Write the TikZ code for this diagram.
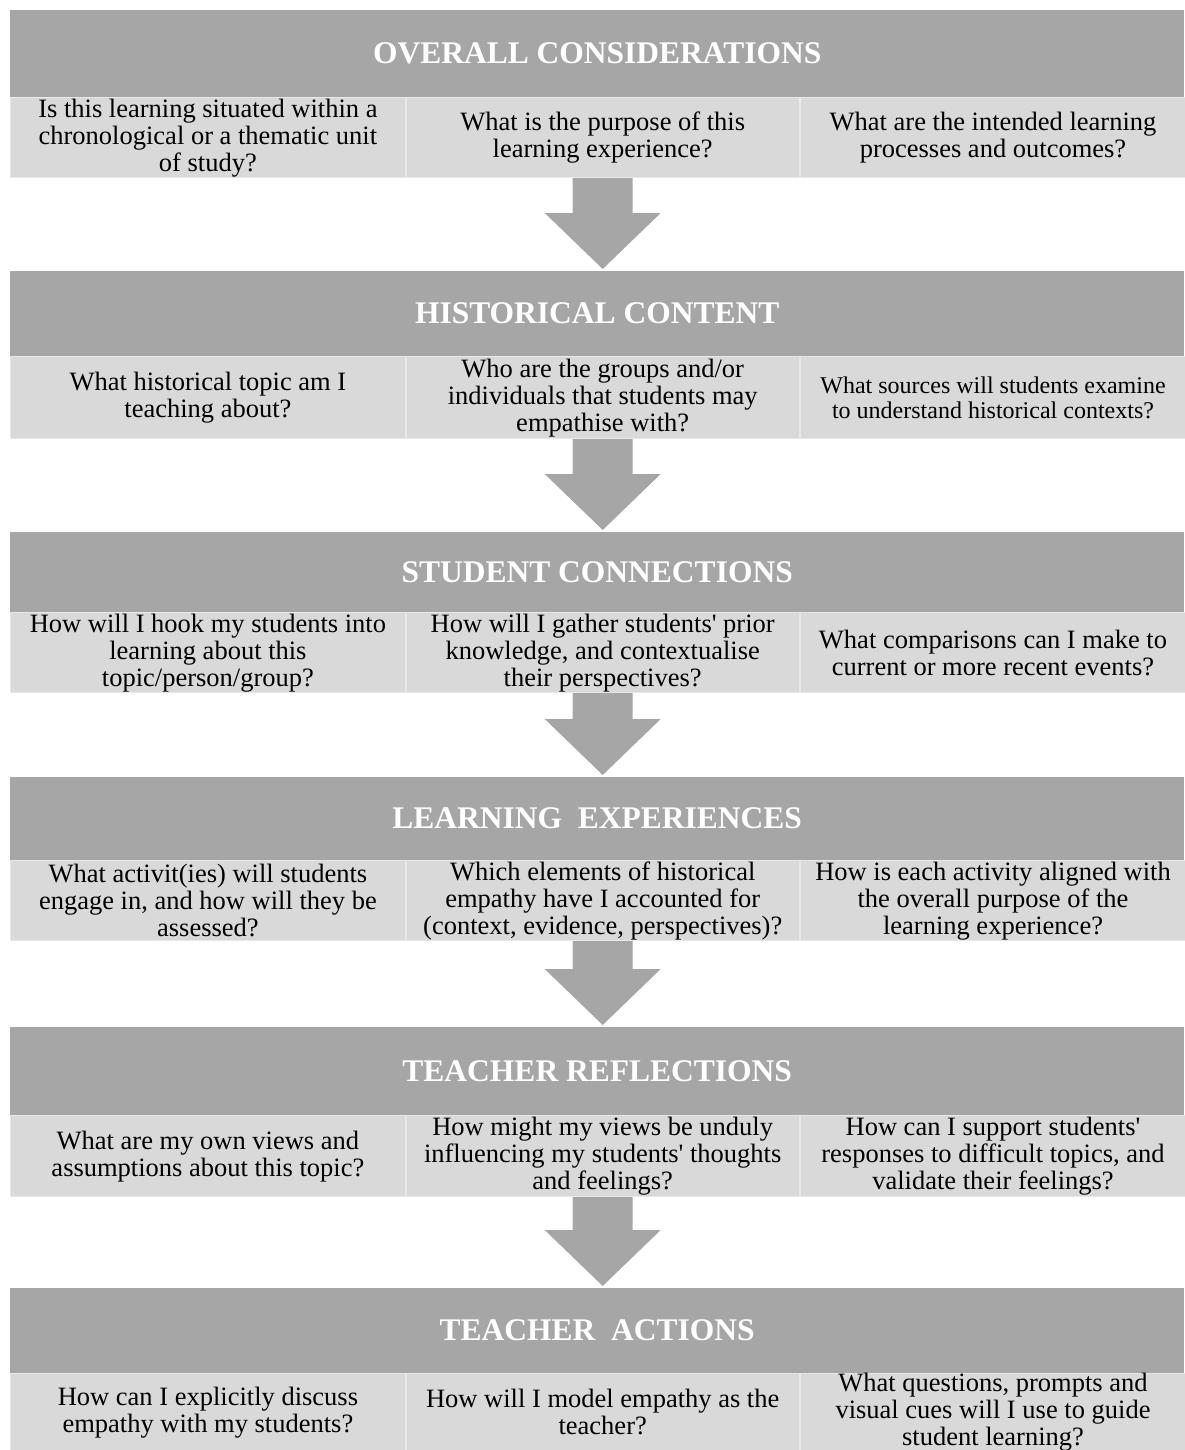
\documentclass[tikz,border=0pt]{standalone}
\usepackage{fontspec}
\setmainfont{Liberation Serif}
\usetikzlibrary{positioning,calc}
\definecolor{headgray}{HTML}{A6A6A6}
\definecolor{cellgray}{HTML}{D9D9D9}
\definecolor{cellline}{HTML}{E8E8E8}

\begin{document}
\begin{tikzpicture}
[ x=1pt, y=-1pt
, head/.style={rectangle, anchor=north west, inner sep=0pt, minimum width=1174pt, fill=headgray, text=white, font=\fontsize{31.5}{34}\selectfont\bfseries}
, cell/.style={rectangle, inner sep=0pt, minimum height=80pt, draw=cellline, line width=0.8pt, fill=cellgray, align=center, font=\fontsize{26.5}{27}\selectfont}
, first/.style={cell, anchor=north west, minimum width=395pt}
, second/.style={cell, right=0pt of #1, minimum width=393pt}
, third/.style={cell, right=0pt of #1, minimum width=386pt}
, flow/.style={fill=headgray}
]
\useasboundingbox (0,0) rectangle (1184,1450);
% Overall considerations:
\node (oc) [head, minimum height=87pt] at (10,10) {OVERALL CONSIDERATIONS};
\node (oc1) [first] at (oc.south west) {Is this learning situated within a\\chronological or a thematic unit\\of study?};
\node (oc2) [second=oc1] {What is the purpose of this\\learning experience?};
\node (oc3) [third=oc2] {What are the intended learning\\processes and outcomes?};
% Historical content:
\node (hc) [head, minimum height=85pt] at (10,271) {HISTORICAL CONTENT};
\node (hc1) [first, minimum height=82pt] at (hc.south west) {What historical topic am I\\teaching about?};
\node (hc2) [second=hc1, minimum height=82pt] {Who are the groups and/or\\individuals that students may\\empathise with?};
\node (hc3) [third=hc2, minimum height=82pt, font=\fontsize{24}{25.5}\selectfont] {What sources will students examine\\to understand historical contexts?};
% Student connections:
\node (sc) [head, minimum height=80pt] at (10,532) {STUDENT CONNECTIONS};
\node (sc1) [first] at (sc.south west) {How will I hook my students into\\learning about this\\topic/person/group?};
\node (sc2) [second=sc1] {How will I gather students\textquotesingle{} prior\\knowledge, and contextualise\\their perspectives?};
\node (sc3) [third=sc2] {What comparisons can I make to\\current or more recent events?};
% Learning experiences:
\node (le) [head, minimum height=83pt] at (10,777) {LEARNING\ \ EXPERIENCES};
\node (le1) [first] at (le.south west) {What activit(ies) will students\\engage in, and how will they be\\assessed?};
\node (le2) [second=le1] {Which elements of historical\\empathy have I accounted for\\(context, evidence, perspectives)?};
\node (le3) [third=le2] {How is each activity aligned with\\the overall purpose of the\\learning experience?};
% Teacher reflections:
\node (tr) [head, minimum height=88pt] at (10,1027) {TEACHER REFLECTIONS};
\node (tr1) [first, minimum height=81pt] at (tr.south west) {What are my own views and\\assumptions about this topic?};
\node (tr2) [second=tr1, minimum height=81pt] {How might my views be unduly\\influencing my students\textquotesingle{} thoughts\\and feelings?};
\node (tr3) [third=tr2, minimum height=81pt] {How can I support students\textquotesingle\\responses to difficult topics, and\\validate their feelings?};
% Teacher actions:
\node (ta) [head, minimum height=85pt] at (10,1288) {TEACHER\ \ ACTIONS};
\node (ta1) [first, minimum height=77pt] at (ta.south west) {How can I explicitly discuss\\empathy with my students?};
\node (ta2) [second=ta1, minimum height=77pt] {How will I model empathy as the\\teacher?};
\node (ta3) [third=ta2, minimum height=77pt] {What questions, prompts and\\visual cues will I use to guide\\student learning?};
% Arrows between the blocks:
\foreach \src/\dst in {oc2/hc, hc2/sc, sc2/le, le2/tr, tr2/ta}
  \fill [flow] ($(\src.south)+(-30,0)$) |- ($(\src.south |- \dst.north)+(-58,-58)$)
    -- ($(\src.south |- \dst.north)+(0,-2)$) -- ($(\src.south |- \dst.north)+(58,-58)$)
    -| ($(\src.south)+(30,0)$) -- cycle;
\end{tikzpicture}
\end{document}
